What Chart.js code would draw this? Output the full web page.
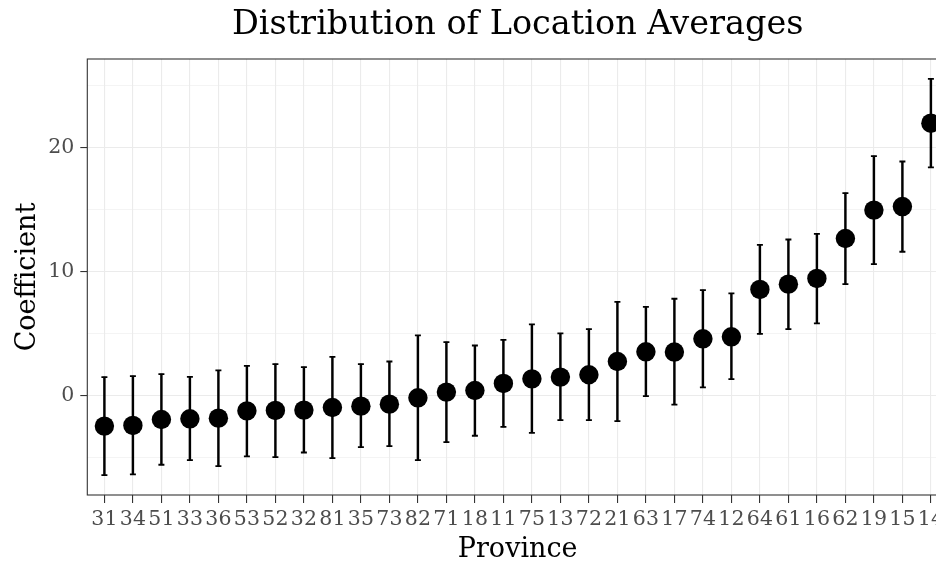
<!DOCTYPE html>
<html>
<head>
<meta charset="utf-8">
<title>Distribution of Location Averages</title>
<script src="https://cdn.jsdelivr.net/npm/chart.js@4.4.1/dist/chart.umd.min.js"></script>
<style>
  html, body { margin: 0; padding: 0; background: #fff; overflow: hidden; }
  #wrap { position: absolute; left: 0; top: 0; width: 936px; height: 563px; overflow: hidden; }
  #coefChart { display: block; }
</style>
</head>
<body>
<div id="wrap"><canvas id="coefChart" width="948" height="563"></canvas></div>
<script>
// province codes, ordered by estimate
const provinces = ['31', '34', '51', '33', '36', '53', '52', '32', '81', '35',
                   '73', '82', '71', '18', '11', '75', '13', '72', '21', '63',
                   '17', '74', '12', '64', '61', '16', '62', '19', '15', '14'];
const coef  = [-2.47, -2.42, -1.94, -1.88, -1.83, -1.24, -1.21, -1.18, -0.97, -0.86,
               -0.70, -0.19, 0.27, 0.40, 0.97, 1.34, 1.48, 1.67, 2.74, 3.52,
               3.50, 4.57, 4.73, 8.55, 8.98, 9.44, 12.66, 14.95, 15.24, 21.96];
const lower = [-6.43, -6.37, -5.59, -5.21, -5.70, -4.92, -4.97, -4.60, -5.05, -4.17,
               -4.09, -5.21, -3.76, -3.25, -2.53, -3.01, -1.99, -1.99, -2.07, -0.05,
               -0.74, 0.65, 1.32, 4.97, 5.35, 5.81, 8.98, 10.59, 11.59, 18.39];
const upper = [1.48, 1.56, 1.72, 1.50, 2.02, 2.39, 2.53, 2.29, 3.12, 2.53,
               2.74, 4.84, 4.30, 4.03, 4.49, 5.73, 5.00, 5.35, 7.55, 7.15,
               7.80, 8.50, 8.23, 12.15, 12.58, 13.04, 16.32, 19.30, 18.87, 25.54];
const yTicks = [0, 10, 20];

// ggplot-like 5% expansion of the y range
const yLo = Math.min(...lower), yHi = Math.max(...upper);
const yPad = (yHi - yLo) * 0.05;

Chart.defaults.font.family = 'DejaVu Serif';
Chart.defaults.color = '#4d4d4d';

const panelBorder = {
  id: 'panelBorder',
  afterDraw(chart) {
    const {ctx, chartArea: a} = chart;
    ctx.save();
    ctx.strokeStyle = '#333333';
    ctx.lineWidth = 1.1;
    ctx.strokeRect(a.left, a.top, a.right - a.left, a.bottom - a.top);
    ctx.restore();
  }
};

const ctx = document.getElementById('coefChart').getContext('2d');
const coefChart = new Chart(ctx, {
  type: 'scatter',
  data: {
    datasets: [
      {
        type: 'scatter',
        label: 'Coefficient',
        data: coef.map((v, i) => ({x: i, y: v})),
        backgroundColor: '#000',
        borderWidth: 0,
        pointRadius: 9.7,
        pointHoverRadius: 9.7,
        order: 0
      },
      {
        type: 'scatter',
        label: 'caps',
        data: lower.map((v, i) => ({x: i, y: v})).concat(upper.map((v, i) => ({x: i, y: v}))),
        pointStyle: 'line',
        pointRadius: 3,
        pointHoverRadius: 3,
        borderColor: '#000',
        borderWidth: 1.8,
        order: 1
      },
      {
        type: 'bar',
        label: 'interval',
        data: lower.map((v, i) => ({x: i, y: [v, upper[i]]})),
        backgroundColor: '#000',
        barThickness: 1.8,
        order: 2
      }
    ]
  },
  options: {
    responsive: false,
    animation: false,
    layout: { padding: 0, autoPadding: false },
    scales: {
      x: {
        type: 'linear',
        offset: false,
        min: -0.6,
        max: provinces.length - 0.4,
        afterFit: (s) => { s.height = 68; s.paddingLeft = 0; s.paddingRight = 0; },
        ticks: {
          stepSize: 1,
          includeBounds: false,
          autoSkip: false,
          maxRotation: 0,
          padding: 4,
          color: '#4d4d4d',
          font: { size: 20.5 },
          callback: (v) => provinces[v] ?? ''
        },
        grid: {
          offset: false,
          color: '#ebebeb',
          lineWidth: 1.1,
          tickLength: 8,
          tickColor: '#333333',
          tickWidth: 1.1
        },
        border: { display: false },
        title: {
          display: true,
          text: 'Province',
          color: '#000',
          font: { size: 27, lineHeight: 1 },
          padding: { top: 0, bottom: 0 }
        }
      },
      y: {
        min: yLo - yPad,
        max: yHi + yPad,
        afterFit: (s) => { s.width = 87.3; s.paddingTop = 0; s.paddingBottom = 0; },
        ticks: {
          stepSize: 5,
          includeBounds: false,
          padding: 6,
          color: '#4d4d4d',
          font: { size: 20.5 },
          callback: (v) => yTicks.includes(v) ? String(v) : ''
        },
        grid: {
          color: '#ebebeb',
          lineWidth: (c) => (c.tick && c.tick.value % 10 === 0) ? 1.1 : 0.55,
          tickLength: 7,
          tickColor: (c) => (c.tick && c.tick.value % 10 === 0) ? '#333333' : 'rgba(0,0,0,0)',
          tickWidth: 1.1
        },
        border: { display: false },
        title: {
          display: true,
          text: 'Coefficient',
          color: '#000',
          font: { size: 27, lineHeight: 1 },
          padding: { top: 14, bottom: 0 }
        }
      }
    },
    plugins: {
      legend: { display: false },
      tooltip: { enabled: false },
      title: {
        display: true,
        text: 'Distribution of Location Averages',
        color: '#000',
        fullSize: false,
        font: { size: 33.5, weight: 'normal', lineHeight: 1 },
        padding: { top: 9, bottom: 16.5 }
      }
    }
  },
  plugins: [panelBorder]
});
</script>
</body>
</html>
